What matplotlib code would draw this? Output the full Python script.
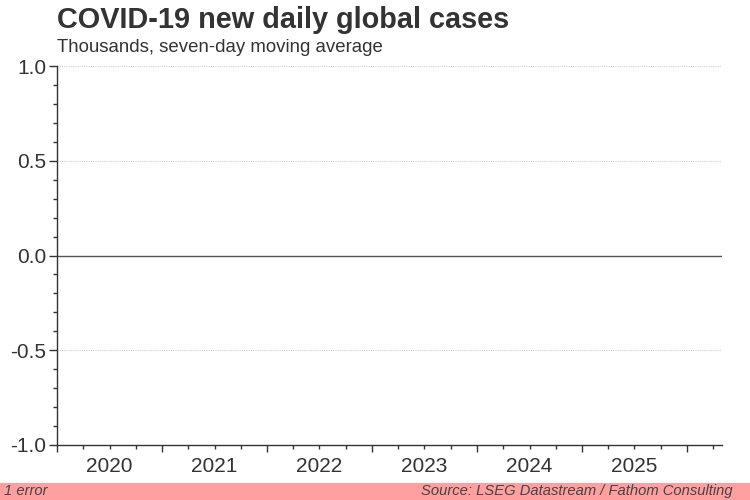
import datetime as dt
import matplotlib
matplotlib.use("Agg")
import matplotlib.pyplot as plt
import matplotlib.dates as mdates
from matplotlib.ticker import MultipleLocator, FuncFormatter
from matplotlib.patches import Rectangle

# data (the series is empty in the reference)
dates = []
cases = []
x_start = dt.date(2020, 1, 1)
x_end = dt.date(2026, 5, 1)
y_min, y_max = -1.0, 1.0

title = "COVID-19 new daily global cases"
subtitle = "Thousands, seven-day moving average"
source = "Source: LSEG Datastream / Fathom Consulting"
status = "1 error"

plt.rcParams['font.family'] = ['Liberation Sans', 'DejaVu Sans']
plt.rcParams['axes.unicode_minus'] = False

text_col = "#333333"
fig = plt.figure(figsize=(7.5, 5), dpi=100)
ax = fig.add_axes([0.0764, 0.11, 0.886, 0.758])

ax.plot(dates, cases, color="#1f5fa8", lw=1.5)
ax.axhline(0, color="#555555", lw=1.0, zorder=2)

ax.set_xlim(x_start, x_end)
ax.set_ylim(y_min, y_max)

# y axis
ax.yaxis.set_major_locator(MultipleLocator(0.5))
ax.yaxis.set_minor_locator(MultipleLocator(0.1))
ax.yaxis.set_major_formatter(FuncFormatter(lambda v, p: f"{v:.1f}"))
ax.tick_params(axis='y', which='major', length=6, width=1, color=text_col,
               labelsize=15, labelcolor=text_col, pad=2)
ax.tick_params(axis='y', which='minor', length=3, width=1, color=text_col)
for v in ax.get_yticks():
    if v not in (0, y_min):
        ax.axhline(v, color="#d0d0d0", lw=0.8, ls=(0, (1, 1)), zorder=1)

# x axis: year ticks unlabeled, quarter ticks, year label in the middle
ax.xaxis.set_major_locator(mdates.YearLocator())
ax.xaxis.set_major_formatter(FuncFormatter(lambda v, p: ""))
ax.xaxis.set_minor_locator(mdates.MonthLocator(bymonth=[4, 7, 10]))


def year_label(v, p):
    d = mdates.num2date(v)
    return str(d.year) if d.month == 7 else ""


ax.xaxis.set_minor_formatter(FuncFormatter(year_label))
ax.tick_params(axis='x', which='major', length=5, width=1, color=text_col)
ax.tick_params(axis='x', which='minor', length=3, width=1, color=text_col,
               labelsize=15, labelcolor=text_col, pad=6)

for s in ("top", "right"):
    ax.spines[s].set_visible(False)
for s in ("left", "bottom"):
    ax.spines[s].set_color(text_col)
    ax.spines[s].set_linewidth(1)

fig.text(0.076, 0.943, title, fontsize=20.8, fontweight='bold', color=text_col,
         ha='left', va='baseline')
fig.text(0.076, 0.897, subtitle, fontsize=13.4, color=text_col,
         ha='left', va='baseline')

# status bar at the bottom
fig.patches.append(Rectangle((0, 0), 1, 0.034, transform=fig.transFigure,
                             facecolor="#ff9f9f", edgecolor='none'))
fig.text(0.005, 0.018, status, fontsize=10.6, style='italic', color="#444444",
         ha='left', va='center')
fig.text(0.977, 0.018, source, fontsize=10.6, style='italic', color="#444444",
         ha='right', va='center')

fig.savefig("out.png", dpi=100)
